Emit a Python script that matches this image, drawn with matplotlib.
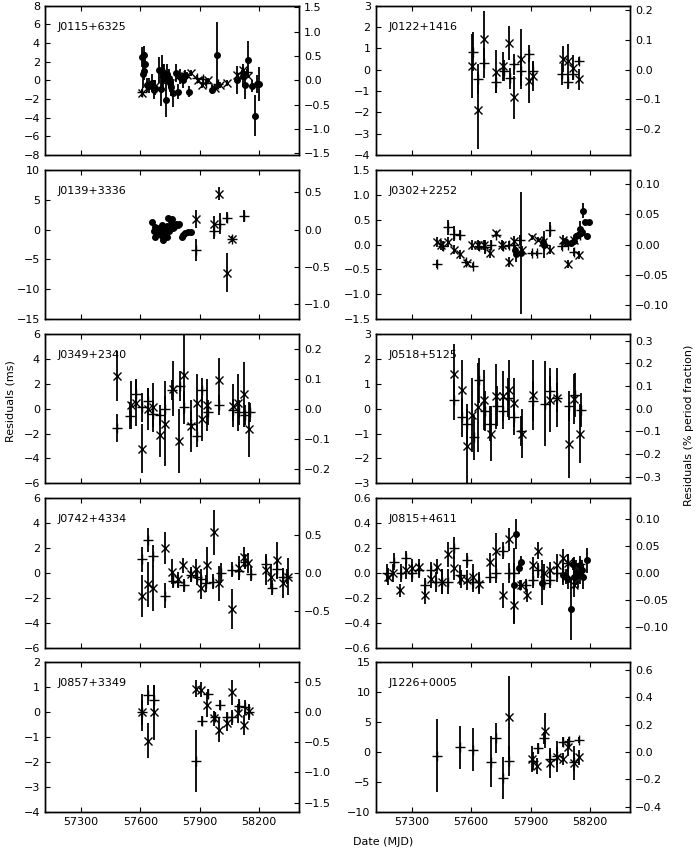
import matplotlib
matplotlib.use("Agg")
import matplotlib.pyplot as plt
from matplotlib.ticker import MultipleLocator

# pulsar names and spin periods (ms) used for the right-hand axis
names = ["J0115+6325", "J0122+1416", "J0139+3336", "J0302+2252", "J0349+2340",
         "J0518+5125", "J0742+4334", "J0815+4611", "J0857+3349", "J1226+0005"]
periods = [521, 1389, 1247, 1207, 2420, 912, 606, 434, 242, 2285]
ylims = [(-8, 8), (-4, 3), (-15, 10), (-1.5, 1.5), (-6, 6),
         (-3, 3), (-6, 6), (-0.6, 0.6), (-4, 2), (-10, 15)]
left_steps = [2, 1, 5, 0.5, 2, 1, 2, 0.2, 1, 5]
right_steps = [0.5, 0.1, 0.5, 0.05, 0.1, 0.1, 0.5, 0.05, 0.5, 0.2]

# (MJD, residual ms, error ms)
j0115_cross = [(57611, -1.4, 0.4), (57674, -0.6, 0.4), (57724, 0.0, 0.4), (57791, 0.5, 0.4),
               (57834, 0.6, 0.3), (57855, 0.8, 0.3), (57892, 0.0, 0.3), (57909, -0.5, 0.3),
               (57943, 0.0, 0.3), (57977, -0.8, 0.3), (58002, -0.5, 0.3), (58035, -0.3, 0.3),
               (58089, 0.6, 0.3), (58120, 1.1, 0.3), (58145, 0.5, 0.3)]
j0115_plus = [(57611, -1.2, 0.3), (57884, 0.3, 0.3), (57918, 0.1, 0.3), (57934, -0.3, 0.3),
              (57993, -0.4, 0.3), (58111, 0.8, 0.3), (58136, 0.9, 0.3)]
j0115_dot = [(57611, 2.5, 1.1), (57618, 2.7, 1.0), (57615, 0.7, 1.5), (57625, 1.8, 1.2),
             (57621, 1.0, 1.0), (57632, -0.5, 0.8), (57643, -0.6, 0.8), (57657, -0.3, 1.0),
             (57669, -1.0, 1.0), (57675, -0.8, 0.8), (57696, 1.1, 1.4), (57702, -0.9, 1.8),
             (57711, 1.0, 1.7), (57716, 0.5, 1.2), (57722, 0.8, 1.0), (57729, -2.1, 1.8),
             (57736, 0.7, 1.0), (57743, 0.2, 1.0), (57749, -0.3, 1.0), (57756, -0.7, 1.0),
             (57766, -1.4, 1.5), (57780, 0.8, 1.0), (57788, -1.2, 0.8), (57800, 0.4, 0.8),
             (57817, 0.0, 0.8), (57827, 0.5, 0.6), (57847, -1.2, 0.6), (57961, -1.0, 0.5),
             (57987, 2.7, 3.6), (58089, 0.0, 1.5), (58120, 0.5, 1.2), (58130, -0.5, 1.5),
             (58145, 2.2, 2.0), (58163, -0.6, 0.6), (58177, -3.8, 2.2), (58190, -0.4, 1.0),
             (58200, -0.4, 1.8)]

j0122_cross = [(57605, 0.15, 1.5), (57635, -1.9, 1.8), (57667, 1.45, 1.3), (57726, -0.1, 1.0),
               (57761, 0.15, 0.7), (57791, 1.25, 0.8), (57818, -1.3, 1.0), (57853, 0.5, 1.4),
               (57892, -0.55, 1.0), (57912, -0.3, 0.7), (58066, 0.5, 0.6), (58091, 0.4, 0.8),
               (58113, 0.1, 0.6), (58146, -0.45, 0.5)]
j0122_plus = [(57608, 0.85, 0.9), (57635, -0.45, 0.7), (57664, 0.3, 0.7), (57726, -0.6, 0.5),
              (57764, -0.05, 0.5), (57794, -0.4, 0.5), (57818, 0.25, 0.5), (57853, -0.05, 0.7),
              (57890, 0.75, 0.4), (57912, -0.05, 0.4), (58061, -0.2, 0.5), (58091, -0.6, 0.3),
              (58116, -0.2, 0.3), (58146, 0.4, 0.2)]
j0122_dot = []

j0139_cross = [(57881, 1.8, 1.5), (57972, 1.0, 1.2), (57998, 6.0, 1.1), (58035, -7.2, 3.2),
               (58064, -1.6, 0.5)]
j0139_plus = [(57882, -3.4, 1.8), (57972, -0.3, 1.2), (58002, 1.0, 1.8), (58039, 2.0, 0.9),
              (58125, 2.3, 1.0), (58064, -1.5, 0.5)]
j0139_dot = [(57657, 1.3, 0.3), (57669, -0.2, 0.3), (57674, 0.5, 0.3), (57675, -1.3, 0.3),
             (57682, 0.2, 0.3), (57685, -0.5, 0.3), (57690, -0.8, 0.3), (57696, 0.0, 0.3),
             (57699, -0.3, 0.3), (57704, 0.3, 0.3), (57707, -1.0, 0.3), (57711, 0.8, 0.3),
             (57716, -1.8, 0.3), (57719, 0.0, 0.3), (57722, -0.6, 0.3), (57727, 0.4, 0.3),
             (57733, -1.2, 0.3), (57736, 0.6, 0.3), (57739, 2.0, 0.3), (57743, 0.2, 0.3),
             (57746, -0.3, 0.3), (57749, 0.5, 0.3), (57753, 1.5, 0.3), (57756, 0.8, 0.3),
             (57759, 1.8, 0.3), (57763, 0.2, 0.3), (57770, 0.5, 0.3), (57780, 1.0, 0.3),
             (57788, 0.8, 0.3), (57793, 0.9, 0.3), (57808, -1.3, 0.3), (57813, -0.9, 0.3),
             (57825, -0.5, 0.3), (57842, -0.4, 0.3), (57854, -0.4, 0.3)]

j0302_cross = [(57426, 0.05, 0.1), (57449, 0.0, 0.1), (57484, 0.05, 0.1), (57513, -0.1, 0.1),
               (57546, -0.2, 0.1), (57580, -0.38, 0.05), (57607, 0.0, 0.1), (57634, 0.0, 0.1),
               (57664, 0.0, 0.1), (57697, -0.18, 0.1), (57726, 0.23, 0.05), (57758, 0.0, 0.1),
               (57791, -0.35, 0.1), (57818, 0.07, 0.1), (57856, -0.12, 0.1), (57907, 0.15, 0.05),
               (57937, 0.1, 0.05), (57965, 0.05, 0.1), (57999, -0.1, 0.1), (58063, 0.1, 0.1),
               (58091, -0.4, 0.08), (58120, 0.1, 0.1), (58146, -0.22, 0.08)]
j0302_plus = [(57429, -0.4, 0.08), (57456, -0.03, 0.1), (57484, 0.35, 0.15), (57513, 0.22, 0.15),
              (57543, 0.2, 0.1), (57572, -0.35, 0.05), (57610, -0.43, 0.05), (57639, -0.03, 0.1),
              (57670, -0.05, 0.15), (57701, 0.0, 0.1), (57727, 0.2, 0.05), (57761, -0.03, 0.1),
              (57789, 0.0, 0.08), (57818, 0.0, 0.1), (57848, 0.1, 0.1), (57907, -0.18, 0.05),
              (57934, -0.18, 0.05), (57970, 0.0, 0.08), (57999, 0.3, 0.15), (58061, -0.03, 0.08),
              (58088, 0.0, 0.05), (58120, -0.15, 0.08), (58150, 0.2, 0.08)]
j0302_dot = [(57823, -0.12, 0.1), (57828, -0.2, 0.15), (57853, -0.17, 1.22), (57962, 0.05, 0.05),
             (57969, 0.0, 0.28), (58073, 0.07, 0.05), (58103, 0.03, 0.05), (58118, 0.08, 0.05),
             (58128, 0.18, 0.05), (58138, 0.2, 0.05), (58148, 0.32, 0.15), (58158, 0.25, 0.1),
             (58166, 0.68, 0.15), (58175, 0.45, 0.05), (58187, 0.18, 0.05), (58197, 0.45, 0.05)]

j0349_cross = [(57480, 2.65, 2.0), (57551, 0.3, 1.9), (57578, 0.5, 1.9), (57611, -3.2, 2.0),
               (57637, -0.05, 1.7), (57662, 0.1, 2.0), (57699, -2.1, 1.8), (57727, -1.2, 3.4),
               (57763, 1.6, 2.2), (57793, -2.6, 2.6), (57820, 2.75, 3.2), (57855, -1.4, 2.1),
               (57884, 0.5, 2.3), (57909, -0.8, 1.8), (57938, 0.3, 2.1), (57998, 2.3, 1.8),
               (58066, 0.25, 1.7), (58093, 0.5, 2.3), (58121, 1.15, 2.6), (58150, -1.65, 2.2)]
j0349_plus = [(57480, -1.55, 1.1), (57547, -0.55, 1.1), (57578, 1.2, 1.1), (57611, 0.1, 1.2),
              (57637, 0.6, 1.1), (57662, -0.4, 1.1), (57699, -0.5, 0.8), (57727, 0.0, 1.0),
              (57759, 1.5, 0.8), (57800, 1.8, 1.2), (57820, 0.1, 1.3), (57854, -1.2, 1.0),
              (57884, -2.2, 0.9), (57913, 1.5, 1.0), (57941, -0.3, 1.0), (57998, 0.3, 0.8),
              (58069, -0.1, 0.9), (58099, -0.3, 1.0), (58128, -0.5, 0.8), (58153, -0.3, 0.8)]
j0349_dot = []

j0518_cross = [(57513, 1.4, 1.2), (57555, 0.75, 1.2), (57580, -1.5, 1.5), (57607, -0.25, 1.5),
               (57635, 0.05, 1.8), (57667, 0.35, 1.2), (57699, -1.0, 1.1), (57727, 0.5, 1.3),
               (57761, 0.5, 1.0), (57791, 0.75, 1.2), (57818, 0.25, 1.0), (57855, -1.0, 1.0),
               (57910, 0.55, 1.4), (57996, 0.35, 1.3), (58036, 0.45, 1.2), (58093, -1.4, 1.4),
               (58120, 0.4, 1.0), (58148, -1.0, 1.2)]
j0518_plus = [(57516, 0.35, 0.8), (57555, -0.35, 0.8), (57580, -0.6, 0.8), (57613, -1.15, 0.9),
              (57640, 1.15, 0.9), (57670, -0.1, 0.8), (57697, -0.6, 0.7), (57731, 0.1, 0.8),
              (57761, -0.1, 0.7), (57788, 0.45, 0.8), (57818, -0.35, 0.7), (57853, -0.9, 0.6),
              (57910, 0.3, 0.8), (57972, 0.2, 1.7), (57999, 0.7, 0.6), (58032, 0.45, 0.6),
              (58093, 0.1, 0.6), (58123, 0.55, 0.9), (58153, -0.05, 0.7)]
j0518_dot = []

j0742_cross = [(57606, -1.85, 1.7), (57637, -0.9, 1.8), (57665, -1.25, 1.8), (57727, 2.0, 1.3),
               (57761, 0.1, 1.0), (57788, -0.5, 0.6), (57817, 0.6, 0.6), (57854, -0.1, 0.6),
               (57881, 0.35, 0.8), (57908, -1.2, 0.9), (57938, 0.6, 1.5), (57973, 3.25, 1.8),
               (57998, -0.85, 1.4), (58064, -2.9, 1.6), (58096, 0.4, 1.0), (58123, 1.3, 0.8),
               (58145, 0.8, 0.8), (58234, 0.2, 1.2), (58259, -0.3, 1.0), (58288, 1.0, 1.5),
               (58318, -0.8, 1.2), (58343, -0.3, 1.5)]
j0742_plus = [(57606, 1.1, 1.0), (57637, 2.65, 1.0), (57665, 1.35, 0.9), (57727, -1.85, 1.0),
              (57765, -0.65, 0.6), (57788, -0.7, 0.5), (57820, -1.0, 0.5), (57854, -0.2, 0.5),
              (57884, -0.3, 0.7), (57908, -0.5, 0.8), (57934, -0.85, 0.7), (57968, -0.7, 0.6),
              (58005, 0.0, 0.8), (58061, 0.25, 0.6), (58098, 0.15, 0.7), (58128, 0.9, 0.6),
              (58158, -0.05, 0.6), (58232, 0.7, 0.8), (58263, -1.2, 0.6), (58291, 0.3, 0.7),
              (58318, -0.35, 0.6), (58342, -0.3, 0.6)]
j0742_dot = []

j0815_cross = [(57181, -0.03, 0.07), (57206, 0.0, 0.07), (57240, -0.14, 0.05), (57273, 0.02, 0.07),
               (57303, 0.04, 0.07), (57337, 0.05, 0.06), (57365, -0.18, 0.07), (57396, -0.05, 0.07),
               (57429, 0.05, 0.06), (57454, -0.07, 0.1), (57483, 0.15, 0.1), (57516, 0.04, 0.1),
               (57551, -0.05, 0.07), (57580, -0.06, 0.08), (57610, -0.03, 0.1), (57639, -0.09, 0.08),
               (57697, 0.09, 0.07), (57726, 0.18, 0.14), (57761, -0.18, 0.1), (57789, 0.27, 0.09),
               (57818, -0.26, 0.15), (57853, -0.1, 0.04), (57882, -0.18, 0.05), (57910, 0.06, 0.07),
               (57937, 0.18, 0.07), (57969, 0.0, 0.07), (57996, 0.02, 0.07), (58032, 0.06, 0.09),
               (58063, 0.12, 0.07), (58088, 0.08, 0.07), (58120, -0.1, 0.09), (58150, 0.0, 0.09)]
j0815_plus = [(57178, 0.0, 0.07), (57211, 0.09, 0.07), (57245, 0.0, 0.07), (57273, 0.12, 0.06),
              (57303, 0.0, 0.07), (57337, 0.02, 0.06), (57365, -0.1, 0.06), (57396, 0.02, 0.07),
              (57424, -0.07, 0.08), (57454, -0.07, 0.1), (57483, -0.07, 0.1), (57516, 0.2, 0.09),
              (57546, -0.02, 0.08), (57580, 0.1, 0.06), (57610, -0.07, 0.08), (57639, -0.07, 0.08),
              (57697, -0.03, 0.05), (57726, 0.0, 0.08), (57761, 0.18, 0.07), (57789, 0.0, 0.08),
              (57818, 0.0, 0.08), (57848, -0.1, 0.04), (57878, -0.1, 0.05), (57912, -0.06, 0.06),
              (57940, 0.02, 0.06), (57969, -0.08, 0.06), (57999, -0.06, 0.06), (58032, 0.0, 0.07),
              (58063, 0.0, 0.07), (58091, 0.08, 0.07), (58120, 0.06, 0.07), (58150, 0.07, 0.07)]
j0815_dot = [(57828, 0.31, 0.12), (57818, -0.1, 0.3), (57840, 0.04, 0.05), (57851, 0.09, 0.05),
             (57960, -0.08, 0.18), (58066, -0.02, 0.08), (58079, -0.03, 0.06), (58091, -0.05, 0.08),
             (58103, -0.29, 0.25), (58113, 0.07, 0.05), (58120, -0.03, 0.1), (58130, 0.0, 0.1),
             (58140, -0.02, 0.1), (58150, 0.06, 0.05), (58158, 0.02, 0.08), (58166, -0.03, 0.1),
             (58183, 0.1, 0.1)]

j0857_cross = [(57606, 0.0, 0.75), (57637, -1.15, 0.7), (57667, 0.0, 1.1), (57881, 0.95, 0.35),
               (57906, 0.9, 0.3), (57938, 0.3, 0.5), (57970, -0.25, 0.3), (57998, -0.7, 0.5),
               (58035, -0.45, 0.3), (58064, 0.8, 0.5), (58094, -0.05, 0.4), (58121, -0.5, 0.4),
               (58150, 0.05, 0.3)]
j0857_plus = [(57606, 0.0, 0.5), (57637, 0.7, 0.4), (57667, 0.5, 0.6), (57882, -1.95, 1.25),
              (57911, -0.35, 0.2), (57941, 0.75, 0.2), (57975, -0.2, 0.2), (58000, 0.3, 0.2),
              (58035, -0.2, 0.2), (58064, -0.2, 0.3), (58096, 0.25, 0.3), (58126, 0.2, 0.3),
              (58150, 0.0, 0.3)]
j0857_dot = []

j1226_cross = [(57791, 5.8, 7.0), (57907, -1.2, 2.2), (57935, -2.3, 1.3), (57974, 3.6, 3.0),
               (57999, -1.8, 2.5), (58036, -0.8, 2.6), (58063, -1.2, 1.0), (58091, 0.8, 1.4),
               (58120, -1.8, 2.8), (58146, -0.9, 1.2)]
j1226_plus = [(57429, -0.6, 6.1), (57546, 0.8, 3.6), (57610, 0.4, 3.6), (57702, -1.6, 4.3),
              (57727, 2.4, 2.5), (57761, -4.3, 3.5), (57791, -1.5, 2.5), (57910, -1.5, 1.5),
              (57937, 0.6, 0.9), (57970, 2.3, 1.0), (57999, -1.1, 1.5), (58032, -0.7, 1.5),
              (58066, 1.7, 0.8), (58094, 1.8, 0.8), (58121, -1.7, 1.5), (58145, 2.0, 0.5)]
j1226_dot = []

all_cross = [j0115_cross, j0122_cross, j0139_cross, j0302_cross, j0349_cross,
             j0518_cross, j0742_cross, j0815_cross, j0857_cross, j1226_cross]
all_plus = [j0115_plus, j0122_plus, j0139_plus, j0302_plus, j0349_plus,
            j0518_plus, j0742_plus, j0815_plus, j0857_plus, j1226_plus]
all_dot = [j0115_dot, j0122_dot, j0139_dot, j0302_dot, j0349_dot,
           j0518_dot, j0742_dot, j0815_dot, j0857_dot, j1226_dot]

plt.rcParams['font.size'] = 8
plt.rcParams['xtick.direction'] = 'in'
plt.rcParams['ytick.direction'] = 'in'
plt.rcParams['xtick.major.size'] = 3.5
plt.rcParams['ytick.major.size'] = 3.5
plt.rcParams['axes.linewidth'] = 1.0


def draw(ax, pts, fmt, ms):
    if not pts:
        return
    x, y, e = zip(*pts)
    ax.errorbar(x, y, yerr=e, fmt=fmt, color='k', ms=ms, mew=1.0,
                elinewidth=1.3, capsize=0)


fig, axes = plt.subplots(5, 2, figsize=(7, 8.5), dpi=100, sharex=True)
fig.subplots_adjust(left=0.064, right=0.9, top=0.9933, bottom=0.045,
                    wspace=0.30, hspace=0.10)

for i, ax in enumerate(axes.flat):
    draw(ax, all_cross[i], 'x', 6)
    draw(ax, all_plus[i], '+', 7)
    draw(ax, all_dot[i], 'o', 4)
    lo, hi = ylims[i]
    ax.set_ylim(lo, hi)
    ax.set_xlim(57118, 58402)
    ax.xaxis.set_major_locator(MultipleLocator(300))
    ax.yaxis.set_major_locator(MultipleLocator(left_steps[i]))
    ax.tick_params(top=True)
    ax.text(0.05, 0.86, names[i], transform=ax.transAxes, va='center')
    ax2 = ax.twinx()
    ax2.set_ylim(lo * 100.0 / periods[i], hi * 100.0 / periods[i])
    ax2.yaxis.set_major_locator(MultipleLocator(right_steps[i]))

fig.text(0.008, 0.528, 'Residuals (ms)', rotation=90, va='center', ha='left')
fig.text(0.985, 0.5, 'Residuals (% period fraction)', rotation=90, va='center', ha='center')
fig.text(0.504, 0.003, 'Date (MJD)', ha='left', va='bottom')

fig.savefig('out.png', dpi=100)
